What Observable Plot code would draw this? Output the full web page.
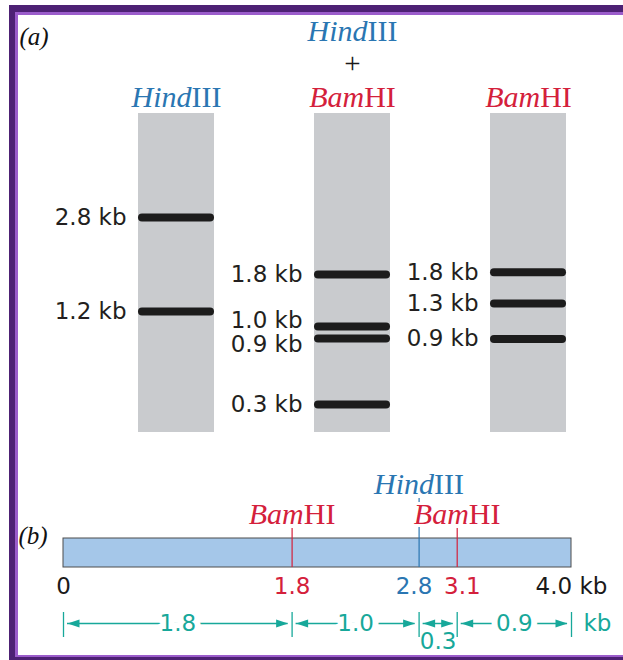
<!DOCTYPE html>
<html>
<head>
<meta charset="utf-8">
<script src="https://cdn.jsdelivr.net/npm/d3@7"></script>
<script src="https://cdn.jsdelivr.net/npm/@observablehq/plot@0.6"></script>
<style>
  html, body { margin: 0; padding: 0; background: #fff; }
  #fig { position: relative; width: 623px; height: 660px; overflow: hidden; background: #fff; }
  #gel, #map { position: absolute; left: 0; }
  #gel { top: 0; }
  #map { top: 455px; }
  #frameOuter { position: absolute; left: 9px; top: 5px; right: -20px; bottom: 0;
    border-left: 6.5px solid #4d2174; border-top: 7px solid #4d2174; border-bottom: 3px solid #4d2174;
    pointer-events: none; }
  #frameInner { position: absolute; left: 0; top: 0; right: 0; bottom: 0;
    border-left: 3px solid #9b5ccb; border-top: 3px solid #9b5ccb; border-bottom: 2px solid #9b5ccb; }
</style>
</head>
<body>
<div id="fig">
  <div id="gel"></div>
  <div id="map"></div>
  <div id="frameOuter"><div id="frameInner"></div></div>
</div>
<script>
// ---------- (a) gel data ----------
const lanes = ["HindIII", "HindIII + BamHI", "BamHI"];
const headerLane = ["HindIII", "HindIII + BamHI", "HindIII + BamHI", "HindIII + BamHI", "BamHI"];
const headerText = ["HindIII", "BamHI", "+", "HindIII", "BamHI"];
const headerRow = [0, 0, 1, 2, 0];
const bandLane = ["HindIII", "HindIII",
  "HindIII + BamHI", "HindIII + BamHI", "HindIII + BamHI", "HindIII + BamHI",
  "BamHI", "BamHI", "BamHI"];
const bandSizeKb = [2.8, 1.2, 1.8, 1.0, 0.9, 0.3, 1.8, 1.3, 0.9];
// migration distance as a fraction of the lane length
const bandMigration = [0.326, 0.621, 0.505, 0.668, 0.705, 0.912, 0.498, 0.596, 0.707];

// ---------- (b) restriction map data ----------
const mapLengthKb = 4.0;
const siteEnzyme = ["BamHI", "HindIII", "BamHI"];
const siteKb = [1.8, 2.8, 3.1];
const tickKb = [0, 1.8, 2.8, 3.1, 4.0];
const tickLabel = ["0", "1.8", "2.8", "3.1", "4.0 kb"];
const tickEnzyme = ["", "BamHI", "HindIII", "BamHI", ""];

const enzymeColor = {HindIII: "#2a76b2", BamHI: "#d4203b", "+": "#1a1a1a", "": "#1a1a1a"};
const teal = "#17a89a";
const fmt = d3.format(".1f");

// spread labels apart so they don't overlap (1-D)
function spread(values, minSep) {
  const idx = values.map((v, i) => i).sort((a, b) => values[a] - values[b]);
  const out = values.slice();
  for (let it = 0; it < 100; it++) {
    let moved = false;
    for (let k = 1; k < idx.length; k++) {
      const a = idx[k - 1], b = idx[k];
      const gap = out[b] - out[a];
      if (gap < minSep - 1e-9) { const d = (minSep - gap) / 2; out[a] -= d; out[b] += d; moved = true; }
    }
    if (!moved) break;
  }
  return out;
}

function styleEnzymes(svg) {
  d3.select(svg).selectAll("text").each(function () {
    const m = /^(Hind|Bam)(III|HI)$/.exec(this.textContent);
    if (m) {
      const sel = d3.select(this);
      sel.text(null);
      sel.append("tspan").attr("font-style", "italic").text(m[1]);
      sel.append("tspan").text(m[2]);
    }
  });
}

// ---------- build (a) ----------
const bands = bandSizeKb.map((kb, i) => ({lane: bandLane[i], kb, migration: bandMigration[i]}));
lanes.forEach(l => {
  const bs = bands.filter(b => b.lane === l);
  const ys = spread(bs.map(b => b.migration), 0.075);
  bs.forEach((b, i) => b.labelY = ys[i]);
});
const headers = headerText.map((t, i) => ({lane: headerLane[i], text: t, row: headerRow[i]}));

const gel = Plot.plot({
  width: 623, height: 445,
  marginLeft: 137, marginRight: 57, marginTop: 113, marginBottom: 13,
  x: {type: "band", domain: lanes, paddingInner: 0.57, paddingOuter: 0, axis: null},
  y: {domain: [0, 1], reverse: true, axis: null},
  color: {type: "identity"},
  style: {fontFamily: "DejaVu Sans", fontSize: "23px", background: "transparent", overflow: "visible", color: "#1a1a1a"},
  marks: [
    Plot.barY(lanes, {x: d => d, y1: 0, y2: 1, fill: "#c9cbce"}),
    Plot.ruleY(bands, {x1: "lane", x2: "lane", y: "migration", stroke: "#1c1c1c", strokeWidth: 8,
      strokeLinecap: "round", insetLeft: 4, insetRight: 4}),
    Plot.text(bands, {x: "lane", y: "labelY", text: d => `${fmt(d.kb)} kb`, textAnchor: "end", dx: -50, fill: "#231f20"}),
    ...[0, 1, 2].map(r => Plot.text(headers.filter(h => h.row === r), {
      x: "lane", text: "text", frameAnchor: "top", lineAnchor: "middle", dy: -16.6 - 33 * r,
      fill: d => enzymeColor[d.text], fontFamily: "Liberation Serif", fontSize: r === 1 ? 29 : 30
    })),
    Plot.text(["(a)"], {frameAnchor: "top-left", lineAnchor: "middle", dx: -118, dy: -77, textAnchor: "start",
      fontFamily: "Liberation Serif", fontStyle: "italic", fontSize: 25, fill: "#111"})
  ]
});
styleEnzymes(gel);
document.getElementById("gel").append(gel);

// ---------- build (b) ----------
const sites = siteKb.map((kb, i) => ({kb, enzyme: siteEnzyme[i]}));
const breaks = [0, ...siteKb, mapLengthKb];
const fragments = d3.pairs(breaks).map(([a, b]) => ({start: a, end: b, mid: (a + b) / 2, len: b - a}));
const tickX = spread(tickKb, 0.38);
const ticks = tickKb.map((kb, i) => ({kb, label: tickLabel[i], enzyme: tickEnzyme[i], labelX: tickX[i]}));

const arrowRight = {draw(ctx) { ctx.moveTo(6, 0); ctx.lineTo(-6, -4); ctx.lineTo(-6, 4); ctx.closePath(); }};
const arrowLeft = {draw(ctx) { ctx.moveTo(-6, 0); ctx.lineTo(6, -4); ctx.lineTo(6, 4); ctx.closePath(); }};
const DNA = () => "DNA";

const map = Plot.plot({
  width: 623, height: 205,
  marginLeft: 63, marginRight: 52, marginTop: 83, marginBottom: 93,
  x: {domain: [0, mapLengthKb], axis: null},
  y: {type: "band", domain: ["DNA"], padding: 0, axis: null},
  color: {type: "identity"},
  style: {fontFamily: "DejaVu Sans", fontSize: "23px", background: "transparent", overflow: "visible", color: "#1a1a1a"},
  marks: [
    Plot.barX([{start: 0, end: mapLengthKb}], {x1: "start", x2: "end", y: DNA, fill: "#a5c7e9", stroke: "#4d4d4d", strokeWidth: 1}),
    Plot.ruleX(sites.filter(d => d.enzyme === "BamHI"), {x: "kb", y1: DNA, y2: DNA, insetTop: -10, stroke: enzymeColor.BamHI, strokeWidth: 1.2}),
    Plot.ruleX(sites.filter(d => d.enzyme === "HindIII"), {x: "kb", y1: DNA, y2: DNA, insetTop: -40, stroke: enzymeColor.HindIII, strokeWidth: 1.2}),
    Plot.text(sites.filter(d => d.enzyme === "BamHI"), {x: "kb", y: DNA, text: "enzyme", dy: -39,
      fill: d => enzymeColor[d.enzyme], stroke: "white", strokeWidth: 6, fontFamily: "Liberation Serif", fontSize: 30}),
    Plot.text(sites.filter(d => d.enzyme === "HindIII"), {x: "kb", y: DNA, text: "enzyme", dy: -69,
      fill: d => enzymeColor[d.enzyme], fontFamily: "Liberation Serif", fontSize: 30}),
    Plot.text(ticks, {x: "labelX", y: DNA, text: "label", dy: 33.5, fill: d => enzymeColor[d.enzyme]}),
    Plot.ruleX(breaks, {x: d => d, y1: DNA, y2: DNA, insetTop: 74, insetBottom: -70, stroke: teal, strokeWidth: 1.3}),
    Plot.ruleY(fragments, {y: DNA, x1: "start", x2: "end", insetLeft: 4, insetRight: 4, dy: 70.5, stroke: teal, strokeWidth: 1.5}),
    Plot.dot(fragments, {x: "start", y: DNA, dx: 10, dy: 70.5, symbol: arrowLeft, fill: teal, stroke: "none"}),
    Plot.dot(fragments, {x: "end", y: DNA, dx: -10, dy: 70.5, symbol: arrowRight, fill: teal, stroke: "none"}),
    Plot.text(fragments.filter(d => d.len >= 0.5), {x: "mid", y: DNA, text: d => fmt(d.len), dy: 70.5,
      fill: teal, stroke: "white", strokeWidth: 12}),
    Plot.text(fragments.filter(d => d.len < 0.5), {x: "mid", y: DNA, text: d => fmt(d.len), dy: 88.5, fill: teal}),
    Plot.text(["kb"], {x: () => mapLengthKb, y: DNA, dx: 12, dy: 70.5, textAnchor: "start", fill: teal}),
    Plot.text(["(b)"], {frameAnchor: "top-left", lineAnchor: "middle", dx: -45, dy: -3, textAnchor: "start",
      fontFamily: "Liberation Serif", fontStyle: "italic", fontSize: 25, fill: "#111"})
  ]
});
styleEnzymes(map);
document.getElementById("map").append(map);
</script>
</body>
</html>
